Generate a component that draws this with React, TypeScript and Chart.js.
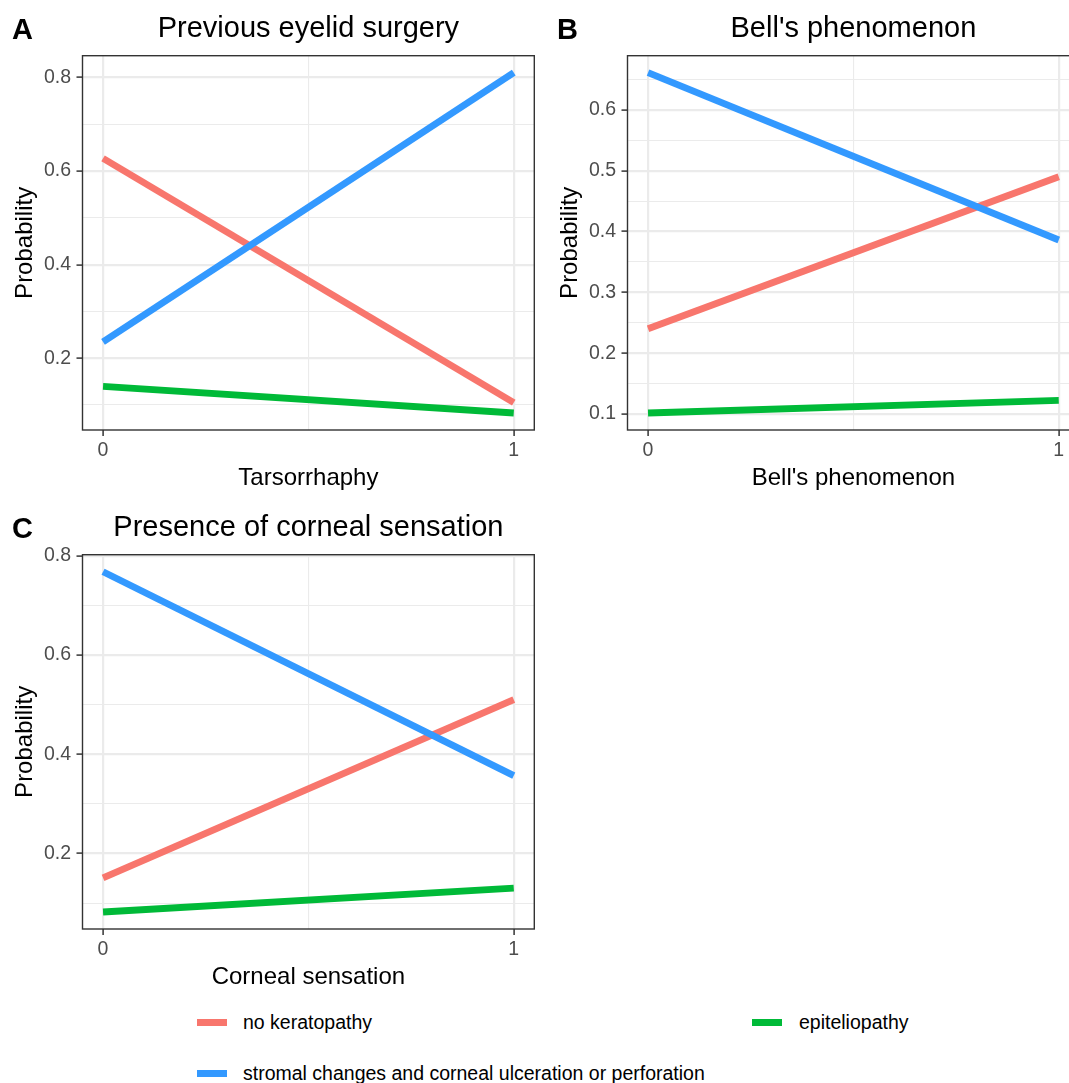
import React, { useEffect, useRef } from 'react';
import { Chart, registerables } from 'chart.js';
Chart.register(...registerables);

const FONT = '"Liberation Sans", Arial, Helvetica, sans-serif';

// shared x axis
const xValues = [0, 1];
const xMajorTicks = [0, 1];
const xTickLabels = ['0', '1'];
const xMinorTicks = [0.5];

// series
const seriesNames = [
  'no keratopathy',
  'stromal changes and corneal ulceration or perforation',
  'epiteliopathy',
];
const seriesColors = ['#F8766D', '#3399FF', '#00BA38'];

// Panel A - Previous eyelid surgery
const aNoKeratopathy = [0.627, 0.105];
const aStromal = [0.235, 0.81];
const aEpiteliopathy = [0.14, 0.083];
const aYTicks = [0.2, 0.4, 0.6, 0.8];
const aYTickLabels = ['0.2', '0.4', '0.6', '0.8'];
const aYMinor = [0.1, 0.3, 0.5, 0.7];

// Panel B - Bell's phenomenon
const bNoKeratopathy = [0.24, 0.49];
const bStromal = [0.661, 0.386];
const bEpiteliopathy = [0.1016, 0.1223];
const bYTicks = [0.1, 0.2, 0.3, 0.4, 0.5, 0.6];
const bYTickLabels = ['0.1', '0.2', '0.3', '0.4', '0.5', '0.6'];
const bYMinor = [0.15, 0.25, 0.35, 0.45, 0.55, 0.65];

// Panel C - Presence of corneal sensation
const cNoKeratopathy = [0.151, 0.51];
const cStromal = [0.768, 0.357];
const cEpiteliopathy = [0.082, 0.13];
const cYTicks = [0.2, 0.4, 0.6, 0.8];
const cYTickLabels = ['0.2', '0.4', '0.6', '0.8'];
const cYMinor = [0.1, 0.3, 0.5, 0.7];

const CW = 540;
const CH = 495;

type PanelProps = {
  tag: string;
  title: string;
  xTitle: string;
  series: number[][];
  yTicks: number[];
  yTickLabels: string[];
  yMinor: number[];
  left: number;
  top: number;
};

function Panel(p: PanelProps) {
  const ref = useRef<HTMLCanvasElement>(null);
  useEffect(() => {
    const all = p.series.flat();
    const dmin = Math.min(...all);
    const dmax = Math.max(...all);
    const ypad = (dmax - dmin) * 0.05;
    const xpad = (Math.max(...xValues) - Math.min(...xValues)) * 0.05;

    const framePlugin = {
      id: 'frame',
      afterDraw(chart: any) {
        const { ctx, chartArea: a } = chart;
        ctx.save();
        ctx.strokeStyle = '#333333';
        ctx.lineWidth = 1.4;
        ctx.strokeRect(a.left, a.top, a.right - a.left, a.bottom - a.top);
        ctx.font = `bold 29px ${FONT}`;
        ctx.fillStyle = '#000000';
        ctx.textAlign = 'left';
        ctx.textBaseline = 'alphabetic';
        ctx.fillText(p.tag, 12, 39);
        ctx.restore();
      },
    };

    // draw order: red bottom, blue, green on top
    const drawOrder = [2, 1, 0];
    const datasets = drawOrder.map((si) => ({
      label: seriesNames[si],
      data: xValues.map((x, i) => ({ x, y: p.series[si][i] })),
      borderColor: seriesColors[si],
      backgroundColor: seriesColors[si],
      borderWidth: 6.8,
      pointRadius: 0,
      fill: false,
      tension: 0,
    }));

    const isYMajor = (v: number) => p.yTicks.includes(v);
    const isXMajor = (v: number) => xMajorTicks.includes(v);

    const chart = new Chart(ref.current as HTMLCanvasElement, {
      type: 'line',
      data: { datasets },
      options: {
        animation: false,
        responsive: false,
        maintainAspectRatio: false,
        devicePixelRatio: 1,
        layout: { padding: { left: 0, right: 5.7, top: 0, bottom: 0 } },
        plugins: {
          legend: { display: false },
          tooltip: { enabled: false },
          title: {
            display: true,
            text: p.title,
            fullSize: false,
            color: '#000000',
            font: { family: FONT, size: 29, weight: 'normal' },
            padding: { top: 11.8, bottom: 9.1 },
          },
        },
        scales: {
          x: {
            type: 'linear',
            min: Math.min(...xValues) - xpad,
            max: Math.max(...xValues) + xpad,
            afterBuildTicks: (s: any) => {
              s.ticks = [...xMajorTicks, ...xMinorTicks]
                .sort((a, b) => a - b)
                .map((v) => ({ value: v }));
            },
            afterFit: (s: any) => {
              s.height = 65;
            },
            ticks: {
              autoSkip: false,
              maxRotation: 0,
              minRotation: 0,
              padding: 3,
              color: '#4D4D4D',
              font: { family: FONT, size: 19.5 },
              callback: (v: any) => {
                const i = xMajorTicks.indexOf(v);
                return i >= 0 ? xTickLabels[i] : '';
              },
            },
            grid: {
              color: '#EBEBEB',
              lineWidth: (c: any) => (c.tick && isXMajor(c.tick.value) ? 2.2 : 1.1),
              tickLength: 6,
              tickColor: (c: any) => (c.tick && isXMajor(c.tick.value) ? '#333333' : 'rgba(0,0,0,0)'),
              tickWidth: 1.5,
            },
            border: { display: false },
            title: {
              display: true,
              text: p.xTitle,
              color: '#000000',
              font: { family: FONT, size: 24 },
              padding: { top: 0, bottom: 2 },
            },
          },
          y: {
            type: 'linear',
            min: dmin - ypad,
            max: dmax + ypad,
            afterBuildTicks: (s: any) => {
              s.ticks = [...p.yTicks, ...p.yMinor]
                .filter((v) => v >= dmin - ypad && v <= dmax + ypad)
                .sort((a, b) => a - b)
                .map((v) => ({ value: v }));
            },
            afterFit: (s: any) => {
              s.width = 82.5;
            },
            ticks: {
              autoSkip: false,
              padding: 5.5,
              color: '#4D4D4D',
              font: { family: FONT, size: 19.5 },
              callback: (v: any) => {
                const i = p.yTicks.indexOf(v);
                return i >= 0 ? p.yTickLabels[i] : '';
              },
            },
            grid: {
              color: '#EBEBEB',
              lineWidth: (c: any) => (c.tick && isYMajor(c.tick.value) ? 2.2 : 1.1),
              tickLength: 6,
              tickColor: (c: any) => (c.tick && isYMajor(c.tick.value) ? '#333333' : 'rgba(0,0,0,0)'),
              tickWidth: 1.5,
            },
            border: { display: false },
            title: {
              display: true,
              text: 'Probability',
              color: '#000000',
              font: { family: FONT, size: 24 },
              padding: { top: 11, bottom: 0 },
            },
          },
        },
      } as any,
      plugins: [framePlugin],
    });
    return () => chart.destroy();
  }, []);

  return (
    <canvas
      ref={ref}
      width={CW}
      height={CH}
      style={{ position: 'absolute', left: p.left, top: p.top, width: CW, height: CH }}
    />
  );
}

function LegendItem(props: { color: string; label: string; keyLeft: number; textLeft: number; y: number }) {
  return (
    <>
      <div
        style={{
          position: 'absolute',
          left: props.keyLeft,
          top: props.y - 3.5,
          width: 30,
          height: 7,
          background: props.color,
        }}
      />
      <div
        style={{
          position: 'absolute',
          left: props.textLeft,
          top: props.y + 7 - 18.7,
          fontFamily: FONT,
          fontSize: 19.5,
          lineHeight: '24px',
          color: '#000000',
          whiteSpace: 'nowrap',
        }}
      >
        {props.label}
      </div>
    </>
  );
}

export default function App() {
  return (
    <div
      style={{
        position: 'absolute',
        left: 0,
        top: 0,
        width: 1069,
        height: 1083,
        overflow: 'hidden',
        background: '#FFFFFF',
      }}
    >
      <Panel
        tag="A"
        title="Previous eyelid surgery"
        xTitle="Tarsorrhaphy"
        series={[aNoKeratopathy, aStromal, aEpiteliopathy]}
        yTicks={aYTicks}
        yTickLabels={aYTickLabels}
        yMinor={aYMinor}
        left={0}
        top={0}
      />
      <Panel
        tag="B"
        title="Bell's phenomenon"
        xTitle="Bell's phenomenon"
        series={[bNoKeratopathy, bStromal, bEpiteliopathy]}
        yTicks={bYTicks}
        yTickLabels={bYTickLabels}
        yMinor={bYMinor}
        left={545}
        top={0}
      />
      <Panel
        tag="C"
        title="Presence of corneal sensation"
        xTitle="Corneal sensation"
        series={[cNoKeratopathy, cStromal, cEpiteliopathy]}
        yTicks={cYTicks}
        yTickLabels={cYTickLabels}
        yMinor={cYMinor}
        left={0}
        top={499}
      />
      <LegendItem color={seriesColors[0]} label={seriesNames[0]} keyLeft={197} textLeft={243} y={1022} />
      <LegendItem color={seriesColors[1]} label={seriesNames[1]} keyLeft={197} textLeft={243} y={1073} />
      <LegendItem color={seriesColors[2]} label={seriesNames[2]} keyLeft={752} textLeft={799} y={1022} />
    </div>
  );
}
